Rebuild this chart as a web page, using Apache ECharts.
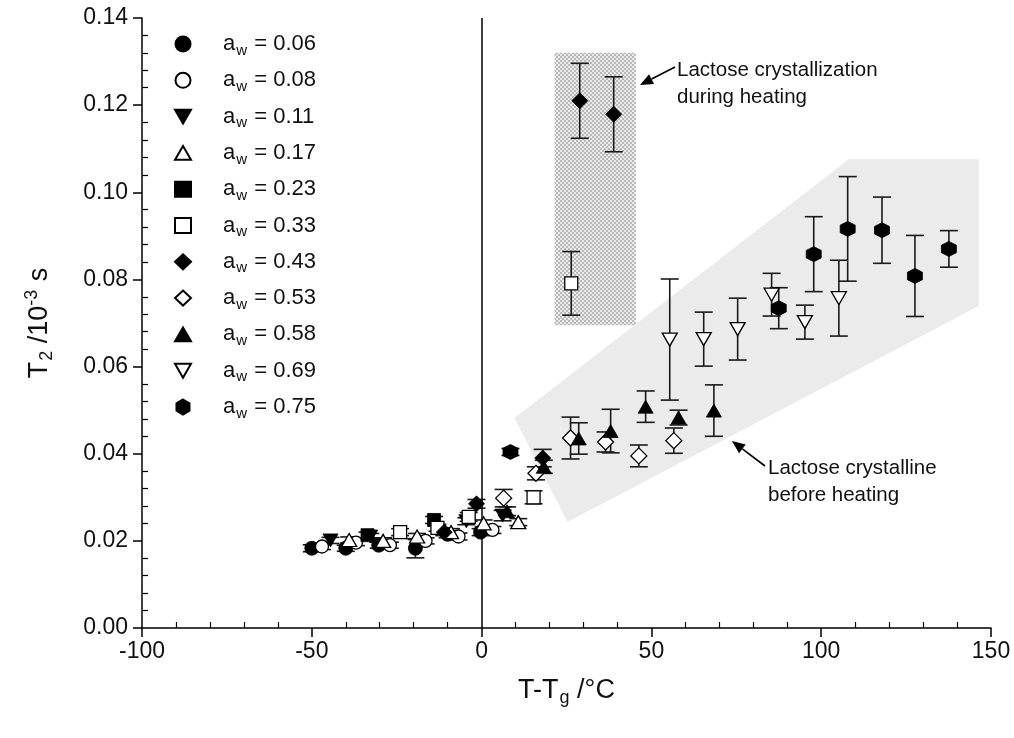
<!DOCTYPE html>
<html><head><meta charset="utf-8">
<script src="https://cdn.jsdelivr.net/npm/echarts@6/dist/echarts.min.js"></script>
<style>html,body{margin:0;padding:0;background:#fff}#c{width:1014px;height:738px}</style>
</head><body><div id="c"></div><script>
// ---------------- data ----------------
const awLabels = ['0.06','0.08','0.11','0.17','0.23','0.33','0.43','0.53','0.58','0.69','0.75'];
// each point: [T-Tg, T2, error half-width]
const aw006 = [[-50.0,0.0183,0.0008],[-40.0,0.0183,0.0007],[-30.3,0.0190,0.0007],[-19.5,0.0183,0.0022],[-10.0,0.0215,0.0008],[-0.3,0.0220,0.0008]];
const aw008 = [[-47.0,0.0187,0.0007],[-37.0,0.0196,0.0007],[-27.0,0.0190,0.0007],[-16.5,0.0200,0.0007],[-6.8,0.0210,0.0008],[3.2,0.0225,0.0008]];
const aw011 = [[-44.5,0.0201,0.0007],[-32.8,0.0210,0.0007],[-4.5,0.0245,0.0008],[6.2,0.0258,0.0012]];
const aw017 = [[-39.0,0.0202,0.0007],[-29.0,0.0200,0.0007],[-19.0,0.0210,0.0007],[-9.0,0.0220,0.0008],[0.6,0.0240,0.0008],[10.8,0.0243,0.0008]];
const aw023 = [[-33.6,0.0213,0.0007],[-14.0,0.0248,0.0008]];
const aw033 = [[-24.0,0.0220,0.0008],[-13.0,0.0230,0.0008],[-3.8,0.0255,0.0010],[15.3,0.0300,0.0015],[26.4,0.0791,0.0073]];
const aw043 = [[-11.0,0.0220,0.0008],[-1.5,0.0285,0.0010],[18.0,0.0390,0.0020],[28.9,0.1210,0.0086],[38.9,0.1179,0.0086]];
const aw053 = [[6.5,0.0298,0.0020],[16.0,0.0355,0.0015],[26.2,0.0436,0.0048],[36.5,0.0427,0.0023],[46.3,0.0395,0.0025],[56.6,0.0430,0.0029]];
const aw058 = [[7.5,0.0268,0.0010],[18.3,0.0370,0.0015],[28.6,0.0435,0.0036],[38.0,0.0452,0.0050],[48.3,0.0508,0.0036],[58.0,0.0483,0.0017],[68.4,0.0499,0.0059]];
const aw069 = [[55.4,0.0662,0.0139],[65.4,0.0663,0.0062],[75.4,0.0686,0.0071],[85.4,0.0765,0.0049],[95.2,0.0702,0.0039],[105.2,0.0757,0.0087]];
const aw075 = [[8.5,0.0404,0.0008],[87.5,0.0734,0.0047],[97.8,0.0858,0.0086],[107.8,0.0916,0.0120],[117.9,0.0913,0.0076],[127.6,0.0808,0.0093],[137.6,0.0870,0.0042]];
const allSeries = [aw006,aw008,aw011,aw017,aw023,aw033,aw043,aw053,aw058,aw069,aw075];
// shaded regions (data coordinates)
const crystallineRegion = [[9.7,0.0482],[108.1,0.1076],[146.4,0.1076],[146.4,0.0739],[25.3,0.0243]];
const heatingRegion = [[21.5,0.1320],[45.4,0.0695]];
const xTickLabels = ['-100','-50','0','50','100','150'];
const yTickLabels = ['0.00','0.02','0.04','0.06','0.08','0.10','0.12','0.14'];

// minor tick positions (between the labelled major ticks)
const xMinor = [], yMinor = [];
for (let k = 0; k <= 25; k++) { if (k % 5) xMinor.push(-100 + 10 * k); }
for (let k = 0; k <= 35; k++) { if (k % 5) yMinor.push(+(0.004 * k).toFixed(3)); }

// ---------------- styles ----------------
const FONT = 'Liberation Sans, Arial, sans-serif';
const HEX = 'path://M5,0 L9.33,2.5 L9.33,7.5 L5,10 L0.67,7.5 L0.67,2.5 Z';
const DOWN = 'path://M0,0 L10,0 L5,8.66 Z';
const UP = 'path://M5,0 L10,8.66 L0,8.66 Z';
const markerDefs = [
  {symbol:'circle', filled:true, size:14},
  {symbol:'circle', filled:false, size:13},
  {symbol:DOWN, filled:true, size:[15,13]},
  {symbol:UP, filled:false, size:[15,13]},
  {symbol:'rect', filled:true, size:13},
  {symbol:'rect', filled:false, size:13},
  {symbol:'diamond', filled:true, size:16},
  {symbol:'diamond', filled:false, size:16},
  {symbol:UP, filled:true, size:[15,13]},
  {symbol:DOWN, filled:false, size:[15,13]},
  {symbol:HEX, filled:true, size:15}
];

const hatch = document.createElement('canvas');
hatch.width = 4; hatch.height = 4;
(function(){const g = hatch.getContext('2d');
  g.fillStyle = '#ebebeb'; g.fillRect(0,0,4,4);
  g.fillStyle = '#b8b8b8';
  g.fillRect(0,0,2,2); g.fillRect(2,2,2,2);
})();

const chart = echarts.init(document.getElementById('c'), null, {renderer:'canvas'});

const scatterSeries = allSeries.map((d,i)=>{
  const m = markerDefs[i];
  return {
    name: 'a_w = ' + awLabels[i], type:'scatter', z:5,
    symbol:m.symbol, symbolSize:m.size, symbolKeepAspect:false,
    data: d.map(p=>[p[0],p[1]]),
    itemStyle: m.filled ? {color:'#000', borderColor:'#000', borderWidth:0.8, opacity:1}
                        : {color:'#fff', borderColor:'#000', borderWidth:1.3, opacity:1},
    emphasis:{disabled:true}
  };
});

const errData = [];
allSeries.forEach(d=>d.forEach(p=>errData.push(p)));

const option = {
  animation:false,
  backgroundColor:'#fff',
  textStyle:{fontFamily:FONT, color:'#000'},
  grid:{left:142, right:23, top:18, bottom:110, containLabel:false},
  legend:{
    data: awLabels.map(a=>'a_w = '+a),
    orient:'vertical', left:169, top:28,
    itemWidth:16, itemHeight:15, itemGap:11.3,
    selectedMode:false,
    formatter: n => '{n|a}{s|w}{n| = ' + n.split('= ')[1] + '}',
    textStyle:{
      padding:[0,0,0,27],
      rich:{
        n:{fontSize:22, color:'#111', fontFamily:FONT},
        s:{fontSize:15, color:'#111', fontFamily:FONT, padding:[13,1,0,1]}
      }
    }
  },
  xAxis:[{
    type:'value', min:-100, max:150, interval:50, position:'bottom',
    name:'{n|T-T}{s|g}{n| /°C}', nameLocation:'middle', nameGap:46,
    nameTextStyle:{rich:{
      n:{fontSize:27, color:'#111', fontFamily:FONT},
      s:{fontSize:18, color:'#111', fontFamily:FONT, padding:[15,0,0,1]}
    }},
    axisLine:{onZero:false, lineStyle:{color:'#000', width:1.5}},
    axisTick:{show:true, inside:false, length:9, lineStyle:{color:'#000', width:1.5}},
    splitLine:{show:false},
    axisLabel:{fontSize:23, color:'#111', margin:12,
      formatter:(v)=>{const i=Math.round((v+100)/50); return xTickLabels[i] ?? String(v);}}
  },{
    type:'value', min:-100, max:150, position:'bottom', offset:0,
    axisLine:{show:false, onZero:false},
    axisLabel:{show:false},
    axisTick:{show:true, inside:true, length:6, customValues:xMinor, lineStyle:{color:'#000', width:1.2}},
    splitLine:{show:false}
  }],
  yAxis:[{
    type:'value', min:0, max:0.14, interval:0.02, position:'left',
    name:'{n|T}{s|2}{n| /10}{p|-3}{n| s}', nameLocation:'middle', nameGap:86, nameRotate:90,
    nameTextStyle:{rich:{
      n:{fontSize:27, color:'#111', fontFamily:FONT},
      s:{fontSize:18, color:'#111', fontFamily:FONT, padding:[15,0,0,1]},
      p:{fontSize:18, color:'#111', fontFamily:FONT, padding:[0,1,15,0]}
    }},
    axisLine:{show:true, onZero:false, lineStyle:{color:'#000', width:1.5}},
    axisTick:{show:true, inside:false, length:9, lineStyle:{color:'#000', width:1.5}},
    splitLine:{show:false},
    axisLabel:{fontSize:23, color:'#111', margin:14,
      formatter:(v)=>{const i=Math.round(v/0.02); return yTickLabels[i] ?? v.toFixed(2);}}
  },{
    type:'value', min:0, max:0.14, position:'left', offset:0,
    axisLine:{show:false, onZero:false},
    axisLabel:{show:false},
    axisTick:{show:true, inside:true, length:6, customValues:yMinor, lineStyle:{color:'#000', width:1.2}},
    splitLine:{show:false}
  }],
  series:[
    {
      type:'custom', name:'crystalline', z:1, silent:true,
      data: crystallineRegion,
      renderItem:(params, api)=>{
        if (params.dataIndex !== 0) return null;
        const pts = crystallineRegion.map(p=>api.coord(p));
        return {type:'polygon', shape:{points:pts}, style:{fill:'#ebebeb', stroke:null}};
      }
    },
    {
      type:'custom', name:'heating', z:1, silent:true,
      data: [heatingRegion[0]],
      renderItem:(params, api)=>{
        const a = api.coord(heatingRegion[0]), b = api.coord(heatingRegion[1]);
        return {type:'rect', shape:{x:a[0], y:a[1], width:b[0]-a[0], height:b[1]-a[1]},
          style:{fill:{image:hatch, repeat:'repeat'}, stroke:null}};
      }
    },
    {
      type:'custom', name:'errors', z:3, silent:true,
      data: errData,
      encode:{x:0, y:1},
      renderItem:(params, api)=>{
        const x=api.value(0), y=api.value(1), e=api.value(2);
        const t=api.coord([x,y+e]), b=api.coord([x,y-e]);
        const w=9, st={stroke:'#1a1a1a', lineWidth:1.6};
        return {type:'group', children:[
          {type:'line', shape:{x1:t[0],y1:t[1],x2:b[0],y2:b[1]}, style:st},
          {type:'line', shape:{x1:t[0]-w,y1:t[1],x2:t[0]+w,y2:t[1]}, style:st},
          {type:'line', shape:{x1:b[0]-w,y1:b[1],x2:b[0]+w,y2:b[1]}, style:st}
        ]};
      },
      markLine:{
        silent:true, symbol:['none','none'], label:{show:false},
        lineStyle:{color:'#000', width:1.5, type:'solid'},
        data:[{xAxis:0}]
      }
    },
    ...scatterSeries
  ]
};
chart.setOption(option);

// annotations
function arrow(x1,y1,x2,y2){
  const ang=Math.atan2(y2-y1,x2-x1), L=13, W=5.5;
  const bx=x2-L*Math.cos(ang), by=y2-L*Math.sin(ang);
  const px=-Math.sin(ang)*W, py=Math.cos(ang)*W;
  return [
    {type:'line', shape:{x1:x1,y1:y1,x2:bx,y2:by}, style:{stroke:'#000', lineWidth:1.6}, z:10},
    {type:'polygon', shape:{points:[[x2,y2],[bx+px,by+py],[bx-px,by-py]]}, style:{fill:'#000'}, z:10}
  ];
}
const annStyle = {fontSize:20.5, fill:'#111', fontFamily:FONT, lineHeight:27};
chart.setOption({graphic:[
  ...arrow(675,67,640,85),
  {type:'text', left:677, top:57, style:Object.assign({text:'Lactose crystallization\nduring heating'}, annStyle), z:10},
  ...arrow(765,466,732,441),
  {type:'text', left:768, top:455, style:Object.assign({text:'Lactose crystalline\nbefore heating'}, annStyle), z:10}
]});
</script></body></html>
